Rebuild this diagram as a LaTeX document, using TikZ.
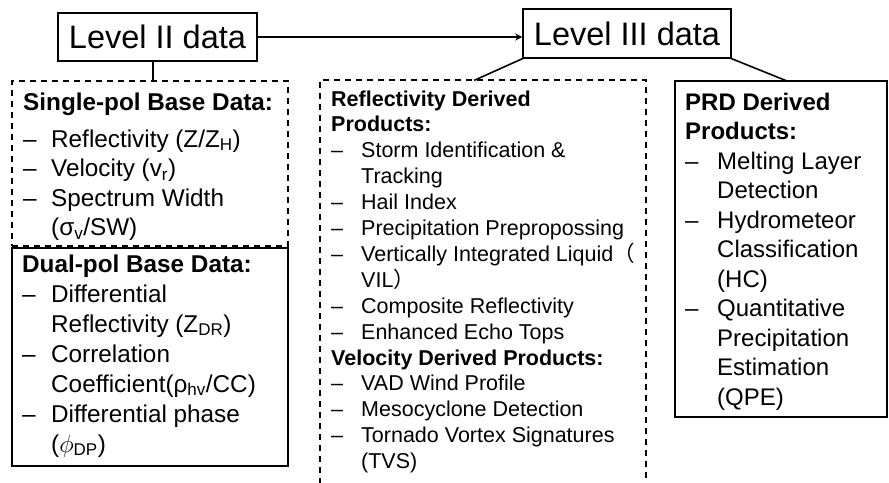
\documentclass[tikz,border=0pt]{standalone}
\usepackage{fontspec}
\setmainfont{Liberation Sans}
\newfontfamily\cjk{Noto Sans CJK SC}
\usetikzlibrary{arrows.meta}
\newlength\dw
\newcommand\dashitem{\makebox[\dw][l]{–}}
\newcommand\hdr[1]{\multicolumn{2}{@{}l@{}}{\bfseries #1}}
\tikzset{
  conn/.style={line width=1.6pt, line cap=rect},
  lvl/.style={draw, line width=1.5pt, inner sep=0pt, font=\fontsize{32.5}{39}\selectfont},
  dbox/.style={draw, line width=1.5pt, dash pattern=on 6pt off 5pt, inner sep=0pt},
  sbox/.style={draw, line width=2pt, inner sep=0pt},
  txt/.style={inner sep=0pt, anchor=base west, align=left}
}
\begin{document}
\begin{tikzpicture}[x=1pt,y=-1pt]
\useasboundingbox (0,0) rectangle (889,482);

% level boxes
\node[lvl, minimum width=199pt, minimum height=48pt] (L2) at (157.5,37) {Level II data};
\node[lvl, minimum width=208pt, minimum height=49pt] (L3) at (627,33.5) {Level III data};

% content boxes
\node[dbox, minimum width=276pt, minimum height=165pt] (SP) at (150,163.5) {};
\node[sbox, minimum width=276pt, minimum height=218pt] (DP) at (150,357) {};
\node[sbox, minimum width=212pt, minimum height=336pt] (PR) at (781,249) {};
\draw[line width=1.5pt, dash pattern=on 6pt off 5pt] (320,484) -- (320,80) -- (646,80) -- (646,484);
\coordinate (M) at (475,80);
\coordinate (R) at (787,81);

% connectors
\draw[conn, -{Stealth[length=7pt,width=7pt]}] (L2.east) -- (L2.east -| L3.west);
\draw[conn] ([xshift=-4.5pt]L2.south) -- ([xshift=-4.5pt]L2.south |- SP.north);
\draw[conn] (L3.south west) -- (M);
\draw[conn] (L3.south east) -- (R);

% texts
\node[txt] (tsp) at (23,110) {\fontsize{24.3}{29.5}\selectfont\setlength\dw{28pt}%
\begin{tabular}[t]{@{}l@{}l@{}}
\hdr{Single-pol Base Data:}\\[7.5pt]
\dashitem & Reflectivity (Z/Z\textsubscript{H})\\
\dashitem & Velocity (v\textsubscript{r})\\
\dashitem & Spectrum Width\\
 & (σ\textsubscript{v}/SW)
\end{tabular}};

\node[txt] (tdp) at (22,272) {\fontsize{24.3}{30}\selectfont\setlength\dw{29pt}%
\begin{tabular}[t]{@{}l@{}l@{}}
\hdr{Dual-pol Base Data:}\\
\dashitem & Differential\\
 & Reflectivity (Z\textsubscript{DR})\\
\dashitem & Correlation\\
 & Coefficient(ρ\textsubscript{hv}/CC)\\
\dashitem & Differential phase\\
 & ($\phi$\textsubscript{DP})
\end{tabular}};

\node[txt] (tmid) at (331,106) {\fontsize{21.5}{25.9}\selectfont\setlength\dw{30pt}%
\begin{tabular}[t]{@{}l@{}l@{}}
\hdr{Reflectivity Derived}\\
\hdr{Products:}\\
\dashitem & Storm Identification \&\\
 & Tracking\\
\dashitem & Hail Index\\
\dashitem & Precipitation Prepropossing\\
\dashitem & Vertically Integrated Liquid\smash{\cjk （}\\
 & VIL\smash{\cjk ）}\\
\dashitem & Composite Reflectivity\\
\dashitem & Enhanced Echo Tops\\
\hdr{Velocity Derived Products:}\\
\dashitem & VAD Wind Profile\\
\dashitem & Mesocyclone Detection\\
\dashitem & Tornado Vortex Signatures\\
 & (TVS)
\end{tabular}};

\node[txt] (tpr) at (685,110) {\fontsize{24}{29.5}\selectfont\setlength\dw{32pt}%
\begin{tabular}[t]{@{}l@{}l@{}}
\hdr{PRD Derived}\\
\hdr{Products:}\\
\dashitem & Melting Layer\\
 & Detection\\
\dashitem & Hydrometeor\\
 & Classification\\
 & (HC)\\
\dashitem & Quantitative\\
 & Precipitation\\
 & Estimation\\
 & (QPE)
\end{tabular}};
\end{tikzpicture}
\end{document}
